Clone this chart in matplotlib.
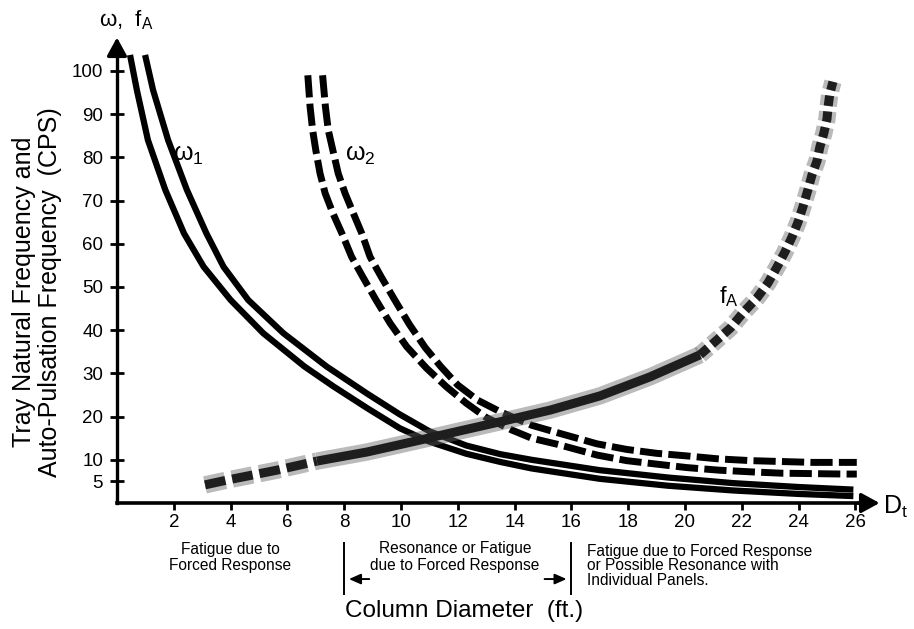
import matplotlib
matplotlib.use('Agg')
import matplotlib.pyplot as plt

plt.rcParams['font.family'] = ['Liberation Sans', 'DejaVu Sans']
plt.rcParams['mathtext.fontset'] = 'custom'
plt.rcParams['mathtext.rm'] = 'Liberation Sans'
plt.rcParams['mathtext.it'] = 'Liberation Sans'
plt.rcParams['mathtext.bf'] = 'Liberation Sans:bold'
plt.rcParams['lines.scale_dashes'] = False

# omega_1 : double solid band (inner / outer strand)
w1_inner_x = [0.46, 0.70, 1.09, 1.70, 2.36, 3.05, 4.00, 5.15, 6.60, 7.62, 8.80, 9.96, 11.0, 12.3, 13.5,
              14.6, 17.0, 19.4, 21.7, 24.0, 25.93]
w1_inner_y = [103.7, 95.6, 84.0, 72.5, 62.4, 54.7, 47.0, 39.3, 31.6, 27.0, 22.0, 17.3, 14.2, 11.4, 9.5,
              8.0, 5.6, 4.0, 2.9, 2.1, 1.6]
w1_outer_x = [0.99, 1.27, 1.80, 2.46, 3.15, 3.75, 4.62, 5.86, 7.38, 8.79, 9.96, 11.0, 12.3, 13.5,
              14.6, 17.0, 19.4, 21.7, 24.0, 25.93]
w1_outer_y = [103.7, 95.6, 84.0, 72.5, 62.4, 54.7, 47.0, 39.3, 31.6, 25.4, 20.5, 16.6, 13.3, 11.3,
              10.0, 7.6, 5.9, 4.6, 3.7, 3.1]

# omega_2 : double dashed band
w2_inner_x = [6.72, 6.80, 6.89, 7.00, 7.15, 7.33, 7.60, 7.92, 8.26, 8.65, 9.12, 9.62, 10.2, 10.9, 11.6,
              12.3, 13.0, 13.9, 14.6, 15.5, 16.9, 17.95, 19.0, 20.06, 21.2, 22.35, 23.4, 24.5, 25.6, 26.05]
w2_inner_y = [99.0, 91.7, 86.3, 81.7, 76.3, 71.7, 67.1, 62.4, 57.0, 52.4, 47.0, 41.6, 36.2, 31.2, 26.9,
              23.1, 19.8, 16.9, 15.0, 13.6, 11.1, 9.8, 9.0, 8.2, 7.6, 7.2, 6.9, 6.8, 6.7, 6.7]
w2_outer_x = [7.24, 7.34, 7.44, 7.60, 7.79, 8.03, 8.32, 8.62, 8.91, 9.30, 9.78, 10.3, 10.85, 11.4, 12.0,
              12.7, 13.5, 14.6, 15.6, 16.9, 17.95, 19.0, 20.06, 21.2, 22.35, 23.4, 24.5, 25.6, 26.05]
w2_outer_y = [99.0, 91.7, 86.3, 81.7, 76.3, 71.7, 67.1, 62.4, 57.0, 52.4, 47.0, 41.3, 36.0, 31.6, 27.3,
              23.8, 21.1, 18.0, 16.1, 13.7, 12.4, 11.5, 10.9, 10.2, 9.8, 9.6, 9.4, 9.4, 9.4]

# f_A : auto-pulsation frequency (dashed - solid - dashed)
fa_x = [3.10, 3.87, 4.79, 5.63, 6.44, 7.04, 8.80, 10.56, 12.08, 13.49, 15.25, 17.01, 18.77, 20.53,
        21.0, 21.6, 22.04, 22.54, 22.92, 23.24, 23.52, 23.77, 23.98, 24.15, 24.33, 24.47, 24.65, 24.75,
        24.89, 25.0, 25.04, 25.1, 25.21]
fa_y = [4.2, 5.3, 6.5, 7.6, 8.8, 9.7, 11.8, 14.4, 16.7, 18.8, 21.5, 24.8, 29.2, 34.3,
        37.0, 40.5, 44.0, 47.5, 50.9, 54.6, 58.1, 61.6, 65.0, 68.5, 72.5, 75.9, 79.2, 82.4,
        85.6, 88.9, 91.7, 94.7, 97.5]
fa_solid_start, fa_solid_end = 5, 13

x_ticks = list(range(2, 27, 2))
y_ticks = [5, 10, 20, 30, 40, 50, 60, 70, 80, 90, 100]

fig = plt.figure(figsize=(9.14, 6.29), dpi=100)
ax = fig.add_axes([0.0969, 0.1797, 0.9011, 0.7968])
ax.set_xlim(-1, 28)
ax.set_ylim(-3, 113)

# axes drawn as arrows from the origin
for side in ['top', 'right']:
    ax.spines[side].set_visible(False)
ax.spines['left'].set_position(('data', 0))
ax.spines['bottom'].set_position(('data', 0))
ax.spines['left'].set_bounds(0, 106)
ax.spines['bottom'].set_bounds(0, 26.3)
ax.spines['left'].set_linewidth(2.4)
ax.spines['bottom'].set_linewidth(2.6)
arrow = dict(arrowstyle='-|>,head_length=0.55,head_width=0.3', color='k', lw=2.5, mutation_scale=20)
ax.annotate('', xy=(26.95, 0), xytext=(26.0, 0), arrowprops=arrow, annotation_clip=False)
ax.annotate('', xy=(0, 108.4), xytext=(0, 105), arrowprops=arrow, annotation_clip=False)

ax.set_xticks(x_ticks)
ax.set_yticks(y_ticks)
ax.tick_params(axis='x', direction='out', length=5, width=2, labelsize=13.5, pad=3)
ax.tick_params(axis='y', direction='inout', length=10, width=2, labelsize=13.5, pad=5)

# omega_1
for xs, ys in [(w1_inner_x, w1_inner_y), (w1_outer_x, w1_outer_y)]:
    ax.plot(xs, ys, color='k', lw=4.5, solid_capstyle='butt', solid_joinstyle='round')

# omega_2
for xs, ys in [(w2_inner_x, w2_inner_y), (w2_outer_x, w2_outer_y)]:
    ax.plot(xs, ys, color='k', lw=5, linestyle=(0, (16, 4.5)), dash_capstyle='butt',
            solid_joinstyle='round')

# f_A, grey fuzzy band with a dark core
a, b = fa_solid_start, fa_solid_end
parts = [(fa_x[:a + 1], fa_y[:a + 1], (0, (15, 5))),
         (fa_x[a:b + 1], fa_y[a:b + 1], '-'),
         (fa_x[b:], fa_y[b:], (0, (7.5, 4)))]
for xs, ys, ls in parts:
    ax.plot(xs, ys, color='#666666', lw=12.5, alpha=0.45, linestyle=ls,
            solid_capstyle='butt', dash_capstyle='butt')
    ax.plot(xs, ys, color='#1e1e1e', lw=6.5, linestyle=ls,
            solid_capstyle='butt', dash_capstyle='butt')

# curve labels
ax.text(2.5, 80.6, r'$\omega_1$', fontsize=18, ha='center', va='center')
ax.text(8.55, 80.6, r'$\omega_2$', fontsize=18, ha='center', va='center')
ax.text(21.2, 47.7, r'$f_A$', fontsize=17, ha='left', va='center')
ax.text(0.32, 111.8, r'$\omega$,  $f_A$', fontsize=16, ha='center', va='center')
ax.text(26.97, -0.9, r'$D_t$', fontsize=18, ha='left', va='center')

# regions below the axis
ax.text(3.98, -12.6, 'Fatigue due to\nForced Response', fontsize=11.2,
        ha='center', va='center', multialignment='center', linespacing=1.15)
ax.text(11.9, -12.5, 'Resonance or Fatigue\ndue to Forced Response', fontsize=11.2,
        ha='center', va='center', multialignment='center', linespacing=1.15)
ax.text(16.54, -14.5, 'Fatigue due to Forced Response\nor Possible Resonance with\nIndividual Panels.',
        fontsize=11.2, ha='left', va='center', linespacing=0.97)
for xb in [8, 16]:
    ax.plot([xb, xb], [-9.2, -21.0], color='k', lw=1.4, clip_on=False)
small = dict(arrowstyle='-|>,head_length=0.5,head_width=0.22', color='k', lw=1.4, mutation_scale=14)
ax.annotate('', xy=(8.07, -17.6), xytext=(8.98, -17.6), arrowprops=small, annotation_clip=False)
ax.annotate('', xy=(15.93, -17.6), xytext=(14.96, -17.6), arrowprops=small, annotation_clip=False)

fig.text(464 / 914, 1 - 611 / 629, 'Column Diameter  (ft.)', fontsize=17.5, ha='center', va='center')
fig.text(37 / 914, 1 - 292 / 629, 'Tray Natural Frequency and\nAuto-Pulsation Frequency  (CPS)',
         fontsize=18, rotation=90, ha='center', va='center', multialignment='center', linespacing=1.08)

fig.savefig('out.png', dpi=100)
